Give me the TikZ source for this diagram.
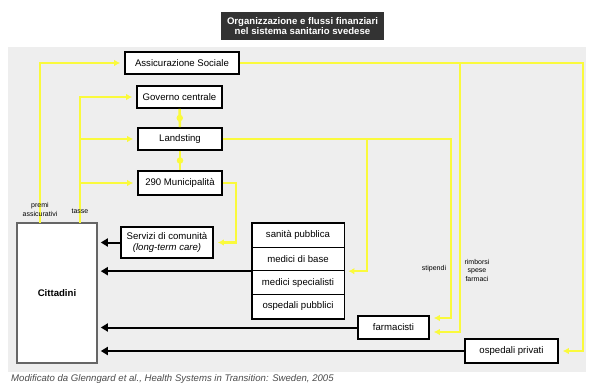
\documentclass[tikz,border=0pt]{standalone}
\usepackage{fontspec}
\setmainfont{Liberation Sans}
\usetikzlibrary{arrows.meta,calc}

\definecolor{giallo}{RGB}{250,250,60}
\definecolor{sfondo}{RGB}{238,238,238}
\definecolor{titolo}{RGB}{51,51,51}

\begin{document}
\begin{tikzpicture}[x=1pt, y=-1pt,
	ente/.style={draw, line width=1.6pt, fill=white, inner sep=0pt,
		font=\fontsize{9.6}{10.5}\selectfont, align=center},
	voce/.style={draw, line width=0.8pt, fill=white, inner sep=0pt,
		minimum width=92pt, minimum height=23.75pt,
		font=\fontsize{9.6}{10.5}\selectfont},
	flusso/.style={draw=giallo, line width=2.6pt, shorten >=4pt,
		-{Latex[length=6pt,width=6.5pt]}},
	linea/.style={draw=giallo, line width=2.6pt},
	pallino/.style={circle, fill=giallo, inner sep=0pt, minimum size=6.5pt},
	pagamento/.style={draw=black, line width=2pt, shorten >=3pt,
		-{Triangle[length=7pt,width=8pt]}},
	nota/.style={font=\fontsize{7}{8.5}\selectfont, align=center, inner sep=0pt}]
	\fill[white] (0,0) rectangle (589,385);
	\useasboundingbox (0,0) rectangle (589,385);
	\fill[sfondo] (8,47) rectangle (586,372);
	\node[fill=titolo, text=white, align=center, inner sep=0pt,
		minimum width=163pt, minimum height=28pt,
		font=\bfseries\fontsize{9.6}{10.8}\selectfont] (tit) at (302.5,26)
		{Organizzazione e flussi finanziari\\nel sistema sanitario svedese};
	% enti
	\node[ente, minimum width=114pt, minimum height=22pt] (ass) at (182,63) {Assicurazione Sociale};
	\node[ente, minimum width=85pt, minimum height=22pt] (gov) at (179.5,97) {Governo centrale};
	\node[ente, minimum width=84pt, minimum height=22pt] (lan) at (180,139) {Landsting};
	\node[ente, minimum width=84pt, minimum height=24pt] (mun) at (180,183) {290 Municipalità};
	\node[ente, minimum width=92pt, minimum height=31pt] (ser) at (167,242.5)
		{Servizi di comunità\\\textit{(long-term care)}};
	\node[draw=black!60, line width=1.6pt, fill=white, minimum width=80pt,
		minimum height=140pt, font=\bfseries\fontsize{9.6}{10.5}\selectfont] (cit) at (57,293) {Cittadini};
	\node[voce] (sp) at (298,235.1) {sanità pubblica};
	\node[voce] (mb) at (298,258.9) {medici di base};
	\node[voce] (ms) at (298,282.6) {medici specialisti};
	\node[voce] (op) at (298,306.4) {ospedali pubblici};
	\draw[line width=1.8pt] (sp.north west) rectangle (op.south east);
	\node[ente, minimum width=71pt, minimum height=23pt] (far) at (393.5,327.5) {farmacisti};
	\node[ente, minimum width=93pt, minimum height=24pt] (osp) at (511.5,351) {ospedali privati};
	% punti di svolta
	\coordinate (pa) at (40,223);
	\coordinate (ta) at (80,223);
	\coordinate (k1) at (367,139);
	\coordinate (k2) at (451,318);
	\coordinate (k3) at (460,63);
	\coordinate (k4) at (460,332);
	\coordinate (k5) at (583,351);
	% flussi finanziari
	\draw[flusso] (pa) |- (ass.west);
	\draw[flusso] (ta) |- (gov.west);
	\draw[flusso] (ta |- lan.west) -- (lan.west);
	\draw[flusso] (ta |- mun.west) -- (mun.west);
	\draw[linea] (gov) -- node[pallino] {} (lan);
	\draw[linea] (lan) -- node[pallino] {} (mun);
	\draw[flusso] (mun.east) -- ++(13,0) |- (ser.east);
	\draw[flusso] (lan.east) -| (k2) -- (far.east |- k2);
	\draw[flusso] (k1) |- (mb.south east);
	\draw[flusso] (ass.east) -| (k5) -- (osp.east);
	\draw[flusso] (k3) -- (k4) -- (far.east |- k4);
	\node[nota] (premi) at (40,209.5) {premi\\assicurativi};
	\node[nota] (tasse) at (80,211) {tasse};
	\node[nota] (stip) at (434,269) {stipendi};
	\node[nota] (rimb) at (477,270) {rimborsi\\spese\\farmaci};
	% servizi ai cittadini
	\draw[pagamento] (ser.west) -- (cit.east |- ser.west);
	\draw[pagamento] (mb.south west) -- (cit.east |- mb.south west);
	\draw[pagamento] (far.west) -- (cit.east |- far.west);
	\draw[pagamento] (osp.west) -- (cit.east |- osp.west);
	\node[anchor=west, inner sep=0pt, text=black!70,
		font=\itshape\fontsize{9.6}{11}\selectfont] (fonte) at (11,379)
		{Modificato da Glenngard et al., Health Systems in Transition: Sweden, 2005};
\end{tikzpicture}
\end{document}
